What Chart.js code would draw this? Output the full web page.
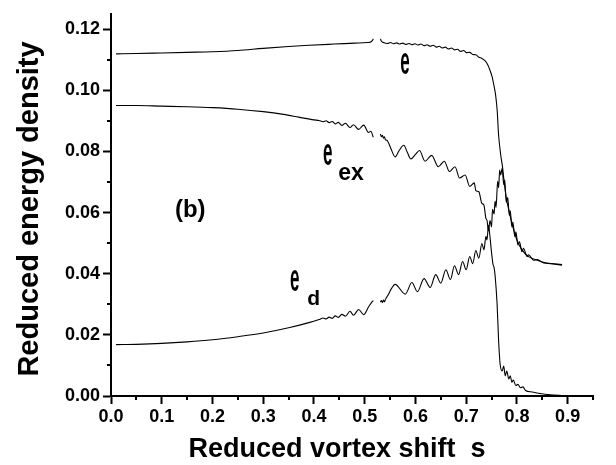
<!DOCTYPE html>
<html>
<head>
<meta charset="utf-8">
<script src="https://cdn.jsdelivr.net/npm/chart.js@4"></script>
<style>
  body { margin: 0; background: #fff; }
</style>
</head>
<body>
<canvas id="chart" width="616" height="465"></canvas>
<script>
// reduced vortex shift s for each curve, and the matching energy values (null = gap)
const eS = [0.01, 0.05, 0.10, 0.15, 0.20, 0.25, 0.30, 0.35, 0.39, 0.44, 0.48, 0.505, 0.512, 0.515, 0.517,
  0.524,
  0.531, 0.533, 0.537, 0.545, 0.551, 0.557, 0.563, 0.569, 0.575, 0.581, 0.587, 0.593, 0.599, 0.605,
  0.611, 0.617, 0.623, 0.629, 0.635, 0.641, 0.647, 0.653, 0.659, 0.665, 0.671, 0.677, 0.683, 0.689,
  0.695, 0.701, 0.707, 0.713, 0.719, 0.725, 0.731, 0.738, 0.743, 0.747, 0.751, 0.754, 0.758, 0.761,
  0.764, 0.768, 0.772, 0.774, 0.779, 0.786, 0.792, 0.800, 0.810, 0.823, 0.840, 0.859, 0.889];
const eV = [0.1119, 0.1120, 0.1122, 0.1124, 0.1126, 0.1130, 0.1137, 0.1143, 0.1147, 0.1151, 0.1154, 0.1156, 0.1158, 0.1162, 0.1168,
  null,
  0.1168, 0.1160, 0.1156, 0.1153, 0.1156, 0.1152, 0.1155, 0.1151, 0.1154, 0.1150, 0.1153, 0.1149, 0.1152, 0.1148,
  0.1151, 0.1146, 0.1149, 0.1144, 0.1147, 0.1141, 0.1144, 0.1138, 0.1141, 0.1135, 0.1138, 0.1132, 0.1134, 0.1127,
  0.1130, 0.1123, 0.1124, 0.1117, 0.1116, 0.1108, 0.1104, 0.1095, 0.1082, 0.1065, 0.1045, 0.1022, 0.0985, 0.0937,
  0.0852, 0.0790, 0.0745, 0.0713, 0.0649, 0.0595, 0.0553, 0.0510, 0.0478, 0.0456, 0.0444, 0.0435, 0.0430];

const exS = [0.01, 0.05, 0.10, 0.15, 0.20, 0.25, 0.30, 0.34, 0.37, 0.40,
  0.41, 0.418, 0.424, 0.430, 0.436, 0.442, 0.448, 0.455, 0.462, 0.471, 0.478, 0.488, 0.498, 0.5075, 0.512, 0.517,
  0.524,
  0.531, 0.533, 0.535, 0.537, 0.539, 0.541, 0.544, 0.552, 0.560, 0.568, 0.577, 0.584, 0.591, 0.600, 0.608,
  0.619, 0.632, 0.645, 0.657, 0.667, 0.678, 0.687, 0.698, 0.707, 0.716, 0.719, 0.725, 0.731, 0.735, 0.739,
  0.741, 0.744, 0.747, 0.750, 0.752, 0.755, 0.757, 0.759, 0.762, 0.764, 0.766, 0.768, 0.771,
  0.774, 0.776, 0.779, 0.782, 0.785, 0.787, 0.790, 0.792, 0.796, 0.798, 0.802, 0.805, 0.810, 0.813,
  0.820, 0.823, 0.833, 0.840, 0.853, 0.866, 0.889];
const exV = [0.0950, 0.0950, 0.0948, 0.0946, 0.0943, 0.0938, 0.0930, 0.0921, 0.0912, 0.0903,
  0.0901, 0.0897, 0.0900, 0.0894, 0.0898, 0.0890, 0.0895, 0.0885, 0.0892, 0.0878, 0.0887, 0.0872, 0.0886, 0.0862, 0.0866, 0.0846,
  null,
  0.0857, 0.0848, 0.0853, 0.0843, 0.0848, 0.0838, 0.0836, 0.0808, 0.0782, 0.0803, 0.0820, 0.0797, 0.0775, 0.0790, 0.0803,
  0.0768, 0.0787, 0.0750, 0.0768, 0.0734, 0.0750, 0.0713, 0.0723, 0.0686, 0.0697, 0.0672, 0.0668, 0.0630, 0.0625, 0.0580,
  0.0575, 0.0540, 0.0574, 0.0553, 0.0611, 0.0595, 0.0638, 0.0617, 0.0702, 0.0681, 0.0739, 0.0723, 0.0745,
  0.0691, 0.0707, 0.0633, 0.0649, 0.0590, 0.0606, 0.0553, 0.0569, 0.0521, 0.0537, 0.0494, 0.0504, 0.0472, 0.0483,
  0.0456, 0.0462, 0.0444, 0.0446, 0.0435, 0.0433, 0.0428];

const dS = [0.01, 0.05, 0.10, 0.15, 0.20, 0.25, 0.30, 0.35, 0.39,
  0.41, 0.418, 0.424, 0.430, 0.436, 0.442, 0.448, 0.455, 0.462, 0.471, 0.478, 0.488, 0.498, 0.5075, 0.514, 0.517,
  0.524,
  0.531, 0.533, 0.535, 0.537, 0.539, 0.541, 0.547, 0.553, 0.560, 0.580, 0.593, 0.604, 0.617, 0.629, 0.640,
  0.650, 0.660, 0.669, 0.677, 0.685, 0.693, 0.700, 0.707, 0.713, 0.719, 0.725, 0.731, 0.735, 0.739, 0.741,
  0.744, 0.747, 0.750, 0.753, 0.755, 0.757, 0.761, 0.764, 0.767, 0.771, 0.774, 0.777, 0.780, 0.784, 0.787,
  0.790, 0.793, 0.798, 0.802, 0.807, 0.812, 0.817, 0.830, 0.846, 0.866, 0.892];
const dV = [0.0168, 0.0169, 0.0172, 0.0177, 0.0184, 0.0194, 0.0206, 0.0223, 0.0240,
  0.0250, 0.0255, 0.0252, 0.0258, 0.0254, 0.0262, 0.0257, 0.0267, 0.0261, 0.0277, 0.0264, 0.0283, 0.0266, 0.0291, 0.0307, 0.0312,
  null,
  0.0307, 0.0312, 0.0305, 0.0314, 0.0308, 0.0316, 0.0333, 0.0352, 0.0365, 0.0333, 0.0371, 0.0341, 0.0384, 0.0355, 0.0397,
  0.0369, 0.0413, 0.0381, 0.0426, 0.0397, 0.0440, 0.0413, 0.0456, 0.0433, 0.0476, 0.0451, 0.0499, 0.0478, 0.0522, 0.0510,
  0.0558, 0.0520, 0.0470, 0.0430, 0.0420, 0.0395, 0.0300, 0.0180, 0.0104, 0.0082, 0.0098, 0.0066, 0.0082, 0.0056, 0.0066,
  0.0045, 0.0052, 0.0034, 0.0038, 0.0027, 0.0030, 0.0018, 0.0013, 0.0008, 0.0004, 0.0001];

const xMinor = [0.05, 0.15, 0.25, 0.35, 0.45, 0.55, 0.65, 0.75, 0.85, 0.95];
const yMinor = [0.01, 0.03, 0.05, 0.07, 0.09, 0.11];

const xTitle = 'Reduced vortex shift  s';
const yTitle = 'Reduced energy density';

const pts = (s, v) => s.map((x, i) => ({ x: x, y: v[i] }));

const FONT = "'Liberation Sans', Arial, sans-serif";

// curve labels (data coordinates of left/baseline)
const labels = [
  { text: '(b)', s: 0.126, v: 0.0586, size: 24 },
  { text: 'e', s: 0.570, v: 0.1052, size: 20, tall: true },
  { text: 'e', s: 0.4176, v: 0.0756, size: 20, tall: true },
  { text: 'ex', s: 0.4477, v: 0.0707, size: 23 },
  { text: 'e', s: 0.353, v: 0.0345, size: 20, tall: true },
  { text: 'd', s: 0.3866, v: 0.0297, size: 21 }
];

const extras = {
  id: 'extras',
  afterDraw(chart) {
    const c = chart.ctx, xs = chart.scales.x, ys = chart.scales.y;
    c.save();
    c.strokeStyle = '#000';
    c.lineWidth = 2;
    c.beginPath();
    xMinor.forEach(v => {
      const p = Math.round(xs.getPixelForValue(v));
      c.moveTo(p, xs.top);
      c.lineTo(p, xs.top + 4);
    });
    yMinor.forEach(v => {
      const p = Math.round(ys.getPixelForValue(v));
      c.moveTo(ys.right, p);
      c.lineTo(ys.right - 4, p);
    });
    c.stroke();

    c.fillStyle = '#000';
    c.textBaseline = 'alphabetic';
    c.textAlign = 'left';
    labels.forEach(l => {
      const x = xs.getPixelForValue(l.s), y = ys.getPixelForValue(l.v);
      c.font = 'bold ' + l.size + 'px ' + FONT;
      if (l.tall) {
        c.save();
        c.translate(x, y);
        c.scale(0.85, 1.9);
        c.fillText(l.text, 0, 0);
        c.restore();
      } else {
        c.fillText(l.text, x, y);
      }
    });

    // axis titles
    c.textAlign = 'center';
    c.font = 'bold 27px ' + FONT;
    c.fillText(xTitle, 337, 457);
    c.save();
    c.translate(38, 209);
    c.rotate(-Math.PI / 2);
    c.font = 'bold 29px ' + FONT;
    c.fillText(yTitle, 0, 0);
    c.restore();
    c.restore();
  }
};

const line = (s, v) => ({
  data: pts(s, v),
  borderColor: '#000',
  borderWidth: 1.1,
  pointRadius: 0,
  fill: false,
  cubicInterpolationMode: 'monotone',
  spanGaps: false
});

const tickFont = { family: FONT, weight: 'bold', size: 18 };

new Chart(document.getElementById('chart'), {
  type: 'line',
  data: { datasets: [line(eS, eV), line(exS, exV), line(dS, dV)] },
  options: {
    responsive: false,
    animation: false,
    devicePixelRatio: 1,
    layout: { padding: { top: 4, right: 23, left: 0, bottom: 0 } },
    plugins: { legend: { display: false }, tooltip: { enabled: false } },
    scales: {
      x: {
        type: 'linear',
        min: 0,
        max: 0.95,
        afterFit(scale) { scale.height = 69; },
        border: { color: '#000', width: 2 },
        grid: { drawOnChartArea: false, tickLength: 8, tickWidth: 2, color: '#000' },
        ticks: {
          stepSize: 0.1,
          includeBounds: false,
          autoSkip: false,
          maxRotation: 0,
          padding: 2,
          color: '#000',
          font: tickFont,
          callback: v => v.toFixed(1)
        }
      },
      y: {
        min: 0,
        max: 0.125,
        afterFit(scale) { scale.width = 111; },
        border: { color: '#000', width: 2 },
        grid: { drawOnChartArea: false, tickLength: 8, tickWidth: 2, color: '#000' },
        ticks: {
          stepSize: 0.02,
          includeBounds: false,
          padding: 3,
          color: '#000',
          font: tickFont,
          callback: v => v.toFixed(2)
        }
      }
    }
  },
  plugins: [extras]
});
</script>
</body>
</html>
